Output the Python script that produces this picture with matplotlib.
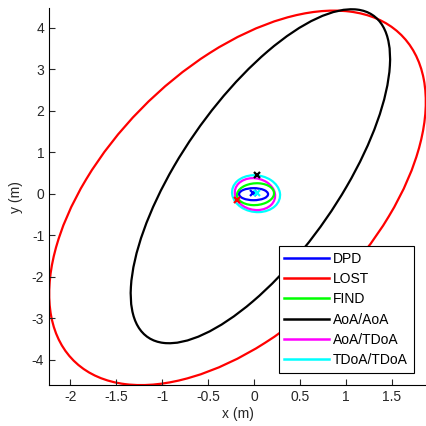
import matplotlib
matplotlib.use("Agg")
import matplotlib.pyplot as plt
from matplotlib.patches import Ellipse
from matplotlib.lines import Line2D

plt.rcParams['font.family'] = ['Liberation Sans', 'DejaVu Sans']

# ==========================================
# DATA (error ellipses)
# ==========================================
methods = ["DPD", "LOST", "FIND", "AoA/AoA", "AoA/TDoA", "TDoA/TDoA"]
colors = ["#0000ff", "#ff0000", "#00ff00", "#000000", "#ff00ff", "#00ffff"]

# ellipse centre, full width / height along own axes, rotation (deg, data space)
center_x = [-0.005, -0.18, 0.016, 0.069, 0.01, 0.022]
center_y = [-0.012, -0.10, -0.012, 0.42, -0.01, 0.0]
ell_width = [0.315, 9.30, 0.40, 8.30, 0.435, 0.52]
ell_height = [0.29, 3.41, 0.53, 1.94, 0.77, 0.89]
ell_angle = [0.0, 74.8, -8.0, 75.3, 5.0, 4.0]

# position estimates (x markers)
est_x = [-0.01, -0.19, 0.03, 0.033]
est_y = [0.01, -0.157, 0.01, 0.446]
est_color = ["#0000ff", "#ff0000", "#00ffff", "#000000"]

XLIM = (-2.23, 1.87)
YLIM = (-4.61, 4.47)

fig = plt.figure(figsize=(4.26, 4.26), dpi=100)
ax = fig.add_axes([0.115, 0.096, 0.885, 0.885])

# draw order: big ones first, small on top
order = [1, 3, 5, 4, 2, 0]
for i in order:
    e = Ellipse((center_x[i], center_y[i]), ell_width[i], ell_height[i],
                angle=ell_angle[i], fill=False, edgecolor=colors[i], linewidth=1.6)
    ax.add_patch(e)

for x, y, c in zip(est_x, est_y, est_color):
    ax.plot(x, y, 'x', color=c, markersize=5, markeredgewidth=1.6)

ax.set_xlim(*XLIM)
ax.set_ylim(*YLIM)
ax.set_xticks([-2, -1.5, -1, -0.5, 0, 0.5, 1, 1.5])
ax.set_xticklabels(["-2", "-1.5", "-1", "-0.5", "0", "0.5", "1", "1.5"])
ax.set_yticks([-4, -3, -2, -1, 0, 1, 2, 3, 4])
ax.set_yticklabels(["-4", "-3", "-2", "-1", "0", "1", "2", "3", "4"])
ax.tick_params(direction='in', length=4, width=0.8, labelsize=10, colors='#262626')
ax.spines['top'].set_visible(False)
ax.spines['right'].set_visible(False)
ax.set_xlabel("x (m)", fontsize=10, color='#262626', labelpad=2)
ax.set_ylabel("y (m)", fontsize=10, color='#262626', labelpad=6)

handles = [Line2D([0], [0], color=c, linewidth=1.8) for c in colors]
leg = ax.legend(handles, methods, loc='lower right', fontsize=10,
                handlelength=3.2, handletextpad=0.3, labelspacing=0.45,
                borderaxespad=0.9, fancybox=False, framealpha=1.0,
                borderpad=0.4)
leg.get_frame().set_edgecolor('black')
leg.get_frame().set_linewidth(0.8)

plt.savefig("out.png", dpi=100)
